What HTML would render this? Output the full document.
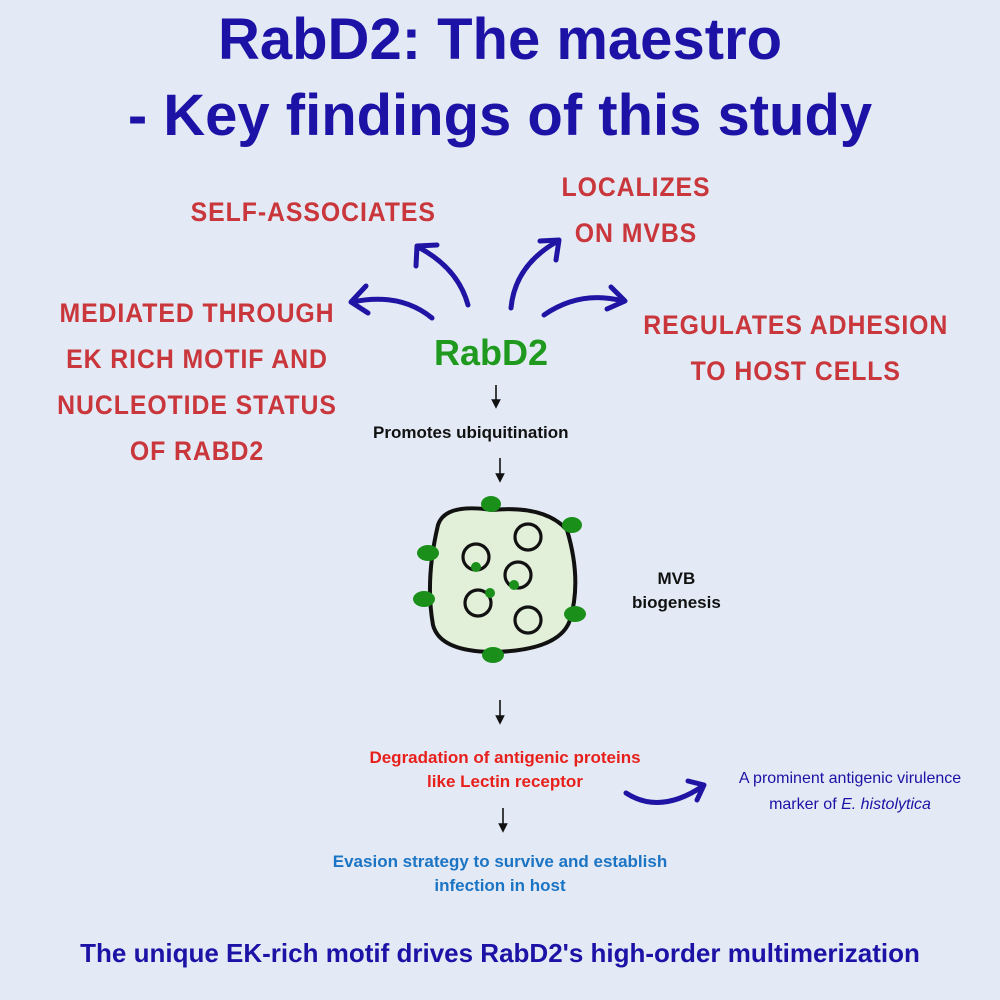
<!DOCTYPE html>
<html><head><meta charset="utf-8"><style>
body{margin:0;width:1000px;height:1000px;overflow:hidden;background:#e3eaf5;font-family:"Liberation Sans",sans-serif;position:relative}
.t{position:absolute;white-space:nowrap}
.title{color:#1c12a6;font-weight:bold;font-size:58px;left:0;width:1000px;text-align:center}
.red{color:#c9363b;font-weight:bold;font-size:27px;letter-spacing:1px;text-align:center;transform:scaleX(0.92);line-height:46px}
.blk{font-weight:bold;font-size:17px;color:#111}
</style></head><body>
<svg width="1000" height="1000" style="position:absolute;left:0;top:0">
<defs><marker id="m" markerWidth="6" markerHeight="6" refX="3" refY="3" orient="auto"><path d="M0,0 L6,3 L0,6 z" fill="#111"/></marker></defs>
<g fill="none" stroke="#1f14a3" stroke-width="5" stroke-linecap="round" stroke-linejoin="round">
<path d="M468,305 Q458,268 418,247"/><path d="M416,266 L417,246 L437,245"/>
<path d="M511,308 Q515,265 558,241"/><path d="M540,241 L559,240 L556,260"/>
<path d="M432,318 Q400,292 352,302"/><path d="M366,286 L351,302 L368,313"/>
<path d="M544,315 Q580,290 623,301"/><path d="M611,287 L625,301 L607,309"/>
<path d="M626,793 Q660,815 703,786"/><path d="M688,781 L704,785 L697,800"/>
</g>
<g stroke="#111" stroke-width="1.6" marker-end="url(#m)">
<line x1="496" y1="385" x2="496" y2="404"/><line x1="500" y1="458" x2="500" y2="478"/>
<line x1="500" y1="700" x2="500" y2="720"/><line x1="503" y1="808" x2="503" y2="828"/>
</g>
<path d="M438,525 Q445,503 492,510 Q545,505 567,530 Q582,580 570,620 Q560,650 495,652 Q440,652 433,625 Q425,580 438,525 Z" fill="#e2efd9" stroke="#111" stroke-width="4"/>
<g fill="none" stroke="#111" stroke-width="3.2">
<circle cx="528" cy="537" r="13"/><circle cx="476" cy="557" r="13"/><circle cx="518" cy="575" r="13"/>
<circle cx="478" cy="603" r="13"/><circle cx="528" cy="620" r="13"/></g>
<g fill="#1a8f1a">
<ellipse cx="491" cy="504" rx="10" ry="8"/><ellipse cx="572" cy="525" rx="10" ry="8"/><ellipse cx="428" cy="553" rx="11" ry="8"/>
<ellipse cx="424" cy="599" rx="11" ry="8"/><ellipse cx="575" cy="614" rx="11" ry="8"/><ellipse cx="493" cy="655" rx="11" ry="8"/>
<circle cx="476" cy="567" r="5"/><circle cx="514" cy="585" r="5"/><circle cx="490" cy="593" r="5"/></g>
</svg>
<div class="t title" style="top:6px">RabD2: The maestro</div>
<div class="t title" style="top:82px">- Key findings of this study</div>
<div class="t red" style="left:180px;top:189px">SELF-ASSOCIATES</div>
<div class="t red" style="left:555px;top:164px">LOCALIZES<br>ON MVBS</div>
<div class="t red" style="left:45px;top:290px">MEDIATED THROUGH<br>EK RICH MOTIF AND<br>NUCLEOTIDE STATUS<br>OF RABD2</div>
<div class="t red" style="left:630px;top:302px">REGULATES ADHESION<br>TO HOST CELLS</div>
<div class="t" style="left:434px;top:332px;color:#1f9a1f;font-weight:bold;font-size:36px">RabD2</div>
<div class="t blk" style="left:373px;top:423px">Promotes ubiquitination</div>
<div class="t blk" style="left:632px;top:567px;text-align:center;line-height:24px">MVB<br>biogenesis</div>
<div class="t" style="left:300px;top:746px;width:410px;text-align:center;color:#e8201c;font-weight:bold;font-size:17px;line-height:24px">Degradation of antigenic proteins<br>like Lectin receptor</div>
<div class="t" style="left:700px;top:766px;width:300px;text-align:center;color:#1c12a6;font-size:16px;line-height:26px">A prominent antigenic virulence<br>marker of <i>E. histolytica</i></div>
<div class="t" style="left:270px;top:850px;width:460px;text-align:center;color:#1b74c4;font-weight:bold;font-size:17px;line-height:24px">Evasion strategy to survive and establish<br>infection in host</div>
<div class="t" style="left:0;width:1000px;text-align:center;top:938px;color:#1c12a6;font-weight:bold;font-size:26px">The unique EK-rich motif drives RabD2's high-order multimerization</div>
</body></html>
